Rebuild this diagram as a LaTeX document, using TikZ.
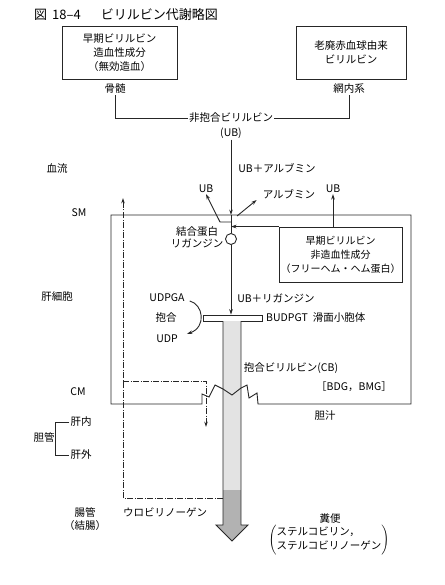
\documentclass[tikz,border=0pt]{standalone}
\usepackage{fontspec}
\setmainfont{Noto Sans CJK JP}
\usetikzlibrary{arrows.meta,calc}
\begin{document}
\begin{tikzpicture}[x=1pt,y=-1pt, font=\fontsize{10.5}{14}\selectfont,
  ln/.style={draw=black!85, line width=0.9pt},
  box/.style={ln, align=center, inner sep=0pt},
  lab/.style={inner sep=1pt},
  arr/.style={ln, -{Stealth[length=5.5pt,width=3.6pt]}},
  dd/.style={ln, dash pattern=on 6pt off 1.5pt on 1pt off 1.5pt}]
\useasboundingbox (0,0) rectangle (444,585);

% title
\node[anchor=west, lab, font=\fontsize{13}{15}\selectfont] (title) at (33,15) {図\hspace{5pt}18–4\hspace{20pt}ビリルビン代謝略図};

% source boxes
\node[box, minimum width=115pt, minimum height=53pt] (bm) at (119.5,52.5) {早期ビリルビン\\造血性成分\\（無効造血）};
\node[box, minimum width=110pt, minimum height=53pt] (re) at (351,52.5) {老廃赤血球由来\\ビリルビン};
\node[lab] (bml) at (115,89) {骨髄};
\node[lab] (rel) at (349,89) {網内系};
\node[lab] (nub) at (231,118) {非抱合ビリルビン};
\node[lab] (nubp) at (231,133) {(UB)};
\draw[ln] (bml.south) |- (nub.west);
\draw[ln] (rel.south) |- (nub.east);

% side labels
\node[lab] (lbf) at (57,168) {血流};
\node[lab] (lsm) at (79,213) {SM};
\node[lab] (lhc) at (57,297) {肝細胞};
\node[lab] (lcm) at (78,392) {CM};
\node[lab] (ltk) at (44,437) {胆管};
\node[lab] (lkn) at (81,422) {肝内};
\node[lab] (lkg) at (81,455) {肝外};
\draw[ln] (lkn.west) -| (ltk.east) |- (lkg.west);
\node[lab] (gut) at (85,512) {腸管};
\node[lab] (gutp) at (85,526) {（結腸）};

% blood flow
\coordinate (sm) at (231,215);
\coordinate (j1) at (231,222);
\coordinate (j2) at (231,227);
\coordinate (j3) at (237,216);
\node[lab] (ualb) at (277,168) {UB＋アルブミン};
\node[lab] (ubl) at (206,189) {UB};
\node[lab] (albl) at (289,194) {アルブミン};
\node[lab] (ubr) at (333,189) {UB};
\draw[arr] (nubp.south) -- (sm);

% uptake
\node[ln, circle, minimum size=11pt, inner sep=0pt] (lig) at (231,239) {};
\node[lab, align=center, font=\fontsize{10.5}{12}\selectfont] (ligl) at (197,237) {結合蛋白\\リガンジン};
\draw[ln] (sm) -- (lig.north);
\draw[arr] (j1) -- ++(-11,0) -- (ubl.south);
\draw[arr] (j3) -- ($(albl.west)+(-5,6)$);
\node[box, minimum width=123pt, minimum height=55pt, font=\fontsize{10}{14}\selectfont] (hb) at (340.5,254.5) {早期ビリルビン\\非造血性成分\\（フリーヘム・ヘム蛋白）};
\draw[arr] (hb.north west) -- (j2 |- hb.north west);
\draw[arr] (hb.north -| ubr) -- (ubr.south);

% conjugation
\node[ln, fill=white, minimum width=59pt, minimum height=6pt, inner sep=0pt] (er) at (232.5,318) {};
\draw[arr] (lig.south) -- (lig.south |- er.north);
\node[lab] (ubl2) at (276,298) {UB＋リガンジン};
\node[lab, anchor=west] (erl) at (265,318) {BUDPGT\hspace{5pt}滑面小胞体};
\node[lab] (udpga) at (167,298) {UDPGA};
\node[lab] (hog) at (166,318) {抱合};
\node[lab] (udp) at (167,339) {UDP};
\draw[arr] ($(udpga.east)+(4,3)$) .. controls (203,304) and (207,327) .. ($(udp.east)+(8,-5)$);

% conjugated bilirubin shaft
\fill[gray!22] (223,321) rectangle (241,490);
\fill[gray!60] (223,490) rectangle (241,525);
\fill[gray!60] (216,525) -- (232,541) -- (248,525) -- cycle;
\draw[ln] (223,321) -- (223,525) -- (216,525) -- (232,541) -- (248,525) -- (241,525) -- (241,321);

% hepatocyte outline with canaliculus
\draw[ln, line join=miter] (223,389) -- (215,385) -- (209,397) -- (202,394) -- (202,404) -- (111,404)
  -- (111,215) -- (411,215) -- (411,404) -- (258,404) -- (257,393) -- (249,398) -- (247,385)
  -- (241,388) -- (232,395) -- cycle;

% urobilinogen circulation
\coordinate (u0) at (223,498);
\coordinate (u1) at (123,498);
\coordinate (u2) at (123,198);
\coordinate (u3) at (123,381);
\coordinate (u4) at (206,381);
\coordinate (u5) at (206,427);
\draw[dd, -{Stealth[length=5.5pt,width=3.6pt]}] (u0) -- (u1) -- (u2);
\draw[dd, -{Stealth[length=5.5pt,width=3.6pt]}] (u3) -- (u4) -- (u5);
\node[lab] (urob) at (165,512) {ウロビリノーゲン};

% right labels
\node[lab] (cb) at (291,368) {抱合ビリルビン(CB)};
\node[lab] (bdg) at (354,387) {［BDG，BMG］};
\node[lab] (bile) at (325,416) {胆汁};
\node[lab] (fe) at (330,519) {糞便};
\node[lab] (st) at (329,540) {$\left(\begin{tabular}{@{}l@{}}ステルコビリン，\\ステルコビリノーゲン\end{tabular}\right)$};
\end{tikzpicture}
\end{document}
